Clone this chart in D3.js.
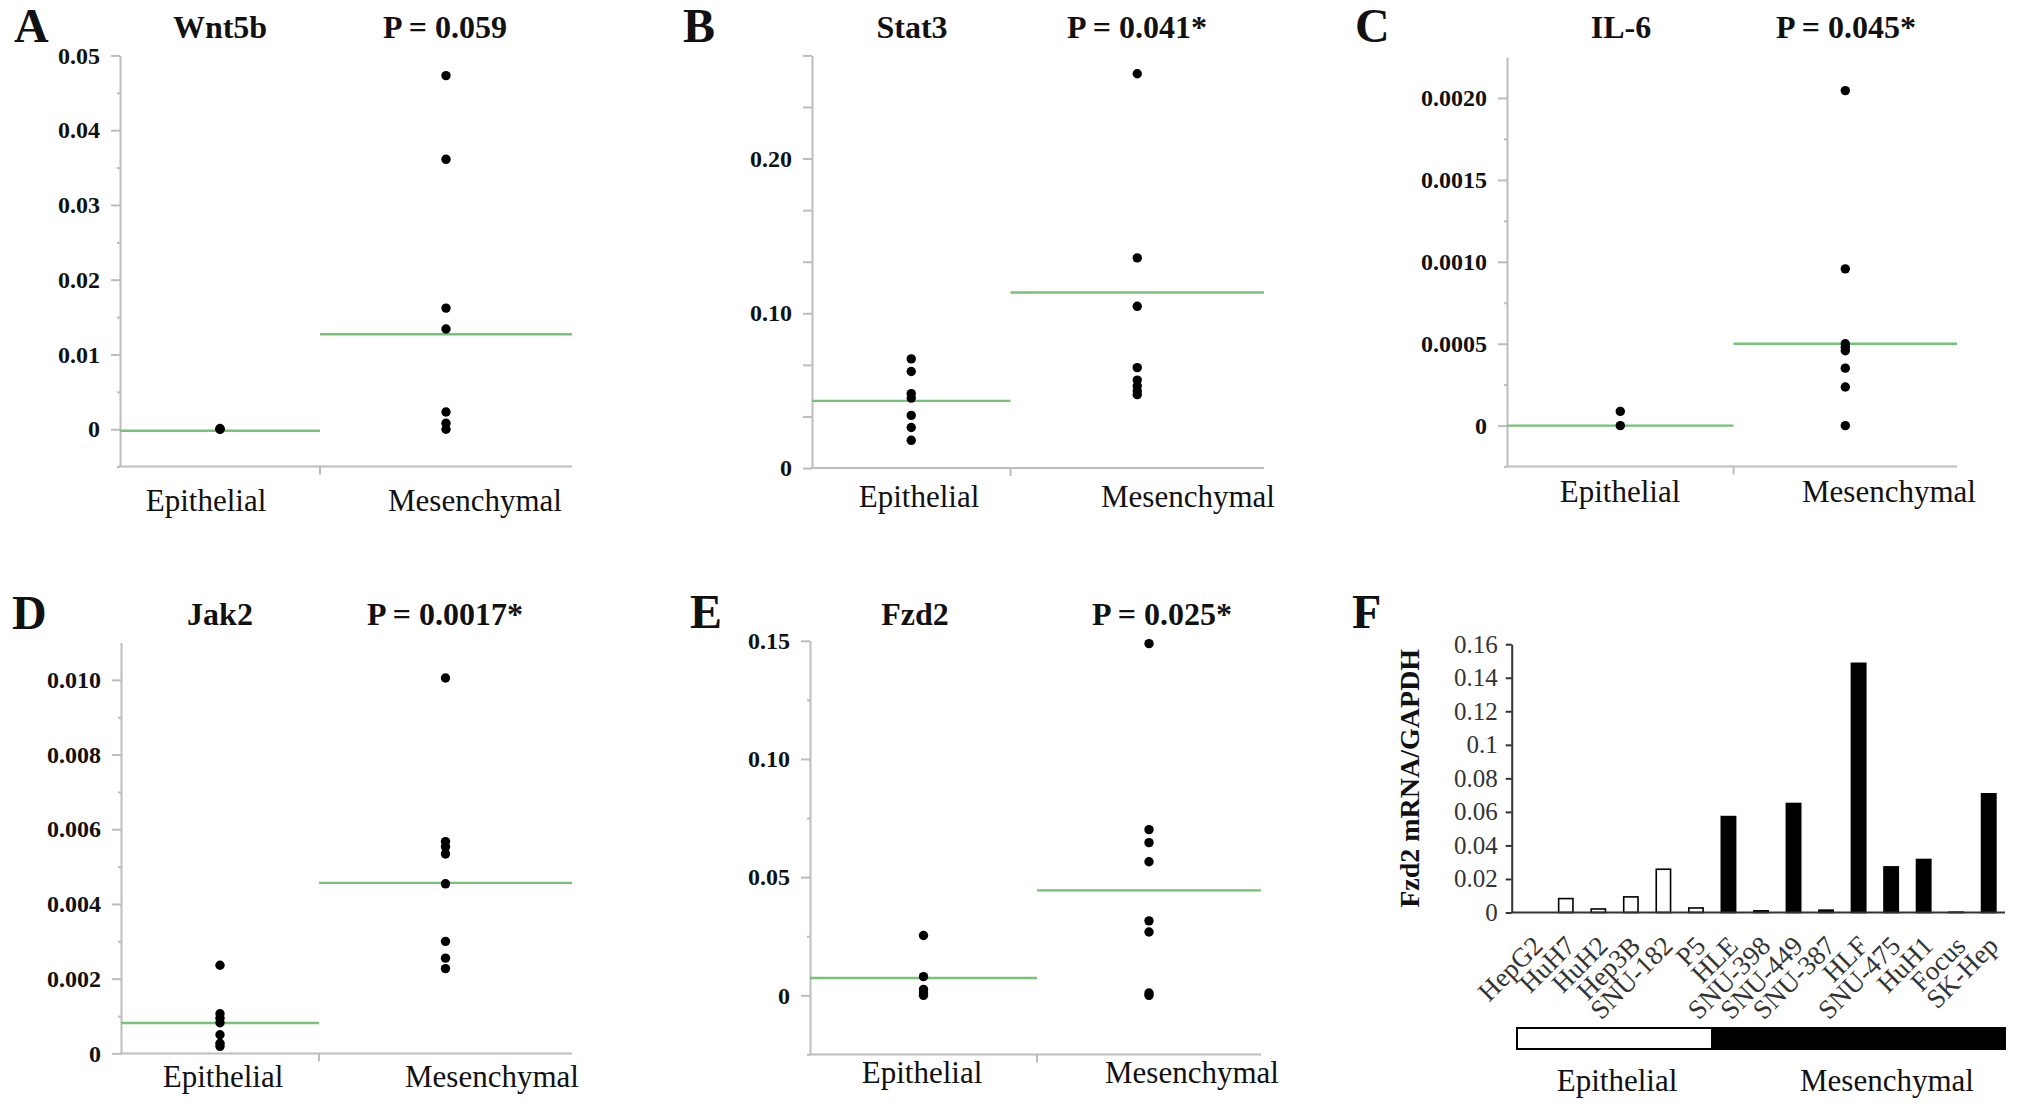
<!DOCTYPE html>
<html>
<head>
<meta charset="utf-8">
<script src="https://cdn.jsdelivr.net/npm/d3@7"></script>
<style>
  body { margin: 0; background: #fff; }
  svg { display: block; font-family: "Liberation Serif", "Times New Roman", serif; }
</style>
</head>
<body>
<svg id="fig" width="2039" height="1115"></svg>
<script>
// ---- values ----
var groups = ["Epithelial", "Mesenchymal"];

// A: Wnt5b
var wnt5bEpi = [0.0001, 0, 0];
var wnt5bMes = [0.0473, 0.0361, 0.0162, 0.0134, 0.0023, 0.0008, 0.0000];
var wnt5bMeans = [-0.0002, 0.0127];
var wnt5bTicks = [0, 0.01, 0.02, 0.03, 0.04, 0.05];
var wnt5bTickLabels = ["0", "0.01", "0.02", "0.03", "0.04", "0.05"];

// B: Stat3
var stat3Epi = [0.0705, 0.0624, 0.0481, 0.0452, 0.0340, 0.0262, 0.0179];
var stat3Mes = [0.2548, 0.1358, 0.1045, 0.0649, 0.0568, 0.0530, 0.0497, 0.0474];
var stat3Means = [0.0434, 0.1134];
var stat3Ticks = [0, 0.10, 0.20];
var stat3TickLabels = ["0", "0.10", "0.20"];

// C: IL-6
var il6Epi = [0.000087, 0];
var il6Mes = [0.002045, 0.000957, 0.000500, 0.000479, 0.000457, 0.000351, 0.000236, 0];
var il6Means = [0, 0.0005];
var il6Ticks = [0, 0.0005, 0.0010, 0.0015, 0.0020];
var il6TickLabels = ["0", "0.0005", "0.0010", "0.0015", "0.0020"];

// D: Jak2
var jak2Epi = [0.00236, 0.00106, 0.00094, 0.00082, 0.00050, 0.00027, 0.00019];
var jak2Mes = [0.01005, 0.00567, 0.00553, 0.00534, 0.00454, 0.00300, 0.00255, 0.00227];
var jak2Means = [0.000815, 0.004565];
var jak2Ticks = [0, 0.002, 0.004, 0.006, 0.008, 0.010];
var jak2TickLabels = ["0", "0.002", "0.004", "0.006", "0.008", "0.010"];

// E: Fzd2
var fzd2Epi = [0.0253, 0.0079, 0.0025, 0.0010, 0];
var fzd2Mes = [0.1488, 0.0701, 0.0646, 0.0565, 0.0315, 0.0268, 0.0010, 0];
var fzd2Means = [0.00735, 0.0444];
var fzd2Ticks = [0, 0.05, 0.10, 0.15];
var fzd2TickLabels = ["0", "0.05", "0.10", "0.15"];

// F: Fzd2 mRNA per cell line
var cellLines = ["HepG2", "HuH7", "HuH2", "Hep3B", "SNU-182", "P5", "HLE", "SNU-398",
                 "SNU-449", "SNU-387", "HLF", "SNU-475", "HuH1", "Focus", "SK-Hep"];
var cellValues = [0, 0.0083, 0.0021, 0.0093, 0.0258, 0.0027, 0.0572, 0.0010,
                  0.0650, 0.0014, 0.1486, 0.0272, 0.0316, 0.0002, 0.0708];
var cellTypes = ["Epithelial", "Epithelial", "Epithelial", "Epithelial", "Epithelial", "Epithelial",
                 "Mesenchymal", "Mesenchymal", "Mesenchymal", "Mesenchymal", "Mesenchymal",
                 "Mesenchymal", "Mesenchymal", "Mesenchymal", "Mesenchymal"];
var barTicks = [0, 0.02, 0.04, 0.06, 0.08, 0.1, 0.12, 0.14, 0.16];
var barTickLabels = ["0", "0.02", "0.04", "0.06", "0.08", "0.1", "0.12", "0.14", "0.16"];

// ---- styling ----
var axisGray = "#bdbdbd";
var meanGreen = "#76c276";
var ink = "#111";

var svg = d3.select("#fig");

// scatter panels: L is where each one sits in the figure
var panels = [
  {letter: "A", gene: "Wnt5b", p: "P = 0.059", epi: wnt5bEpi, mes: wnt5bMes, means: wnt5bMeans,
   ticks: wnt5bTicks, labels: wnt5bTickLabels, domain: [-0.005, 0.05], minorStep: 0.005, minorLen: 3,
   L: {x0: 120, xMid: 320, x1: 572, yTop: 55.4, yBot: 466.6, letX: 14, letY: 42,
       titleY: 38, geneX: 220, pX: 445, labY: 510.6, epiX: 206, mesX: 475}},
  {letter: "B", gene: "Stat3", p: "P = 0.041*", epi: stat3Epi, mes: stat3Mes, means: stat3Means,
   ticks: stat3Ticks, labels: stat3TickLabels, domain: [0, 0.26667], minorStep: 1 / 30, minorLen: 9,
   L: {x0: 812, xMid: 1010.5, x1: 1264, yTop: 55.4, yBot: 468, letX: 683, letY: 42,
       titleY: 38, geneX: 912, pX: 1137, labY: 507, epiX: 919, mesX: 1188}},
  {letter: "C", gene: "IL-6", p: "P = 0.045*", epi: il6Epi, mes: il6Mes, means: il6Means,
   ticks: il6Ticks, labels: il6TickLabels, domain: [-0.00025, 0.00225], minorStep: 0.00025, minorLen: 3,
   L: {x0: 1507, xMid: 1733.6, x1: 1957, yTop: 57, yBot: 466.6, letX: 1355, letY: 42,
       titleY: 38, geneX: 1621, pX: 1846, labY: 502, epiX: 1620, mesX: 1889}},
  {letter: "D", gene: "Jak2", p: "P = 0.0017*", epi: jak2Epi, mes: jak2Mes, means: jak2Means,
   ticks: jak2Ticks, labels: jak2TickLabels, domain: [0, 0.011], minorStep: 0.001, minorLen: 3,
   L: {x0: 121, xMid: 319, x1: 572, yTop: 642.5, yBot: 1053.4, letX: 12, letY: 629,
       titleY: 625, geneX: 220, pX: 445, labY: 1087.3, epiX: 223, mesX: 492}},
  {letter: "E", gene: "Fzd2", p: "P = 0.025*", epi: fzd2Epi, mes: fzd2Mes, means: fzd2Means,
   ticks: fzd2Ticks, labels: fzd2TickLabels, domain: [-0.025, 0.15], minorStep: 0.025, minorLen: 3,
   L: {x0: 810, xMid: 1037, x1: 1261, yTop: 640.8, yBot: 1054.4, letX: 690, letY: 628,
       titleY: 625, geneX: 915, pX: 1162, labY: 1083, epiX: 922, mesX: 1192}}
];

function drawScatter(p) {
  var L = p.L;
  var g = svg.append("g");
  var y = d3.scaleLinear().domain(p.domain).range([L.yBot, L.yTop]);
  var x = d3.scaleOrdinal().domain(groups).range([(L.x0 + L.xMid) / 2, (L.xMid + L.x1) / 2]);
  var edges = d3.scaleOrdinal().domain(groups).range([[L.x0, L.xMid], [L.xMid, L.x1]]);

  // minor ticks (no labels)
  var eps = p.minorStep / 10;
  var minor = d3.range(p.domain[0] + eps, p.domain[1] + eps, p.minorStep)
    .map(function (v) { return Math.round(v / p.minorStep) * p.minorStep; })
    .filter(function (v) { return !p.ticks.some(function (t) { return Math.abs(t - v) < eps; }); });
  g.append("g")
    .attr("transform", "translate(" + L.x0 + ",0)")
    .call(d3.axisLeft(y).tickValues(minor).tickSize(p.minorLen).tickSizeOuter(0).tickFormat(""))
    .call(function (s) { s.select(".domain").remove(); })
    .selectAll("line").attr("stroke", axisGray).attr("stroke-width", 2);

  // major ticks + the y axis line
  var ya = g.append("g")
    .attr("transform", "translate(" + L.x0 + ",0)")
    .call(d3.axisLeft(y).tickValues(p.ticks).tickSize(9).tickSizeOuter(0).tickPadding(11)
      .tickFormat(function (d, i) { return p.labels[i]; }));
  ya.select(".domain").attr("stroke", axisGray).attr("stroke-width", 2);
  ya.selectAll(".tick line").attr("stroke", axisGray).attr("stroke-width", 2);
  ya.attr("font-family", null).attr("font-size", null);
  ya.selectAll(".tick text").attr("fill", ink).attr("font-size", 24).attr("font-weight", "bold");

  // x axis line with a tick between the groups
  g.append("line").attr("x1", L.x0 - 1).attr("x2", L.x1).attr("y1", L.yBot).attr("y2", L.yBot)
    .attr("stroke", axisGray).attr("stroke-width", 2);
  g.append("line").attr("x1", L.xMid).attr("x2", L.xMid).attr("y1", L.yBot).attr("y2", L.yBot + 8)
    .attr("stroke", axisGray).attr("stroke-width", 2);

  // group means
  g.selectAll(".mean").data(groups).enter().append("line")
    .attr("x1", function (d) { return edges(d)[0]; })
    .attr("x2", function (d) { return edges(d)[1]; })
    .attr("y1", function (d, i) { return y(p.means[i]); })
    .attr("y2", function (d, i) { return y(p.means[i]); })
    .attr("stroke", meanGreen).attr("stroke-width", 2.4);

  // points
  var pts = p.epi.map(function (v) { return {g: "Epithelial", v: v}; })
    .concat(p.mes.map(function (v) { return {g: "Mesenchymal", v: v}; }));
  g.selectAll(".dot").data(pts).enter().append("circle")
    .attr("cx", function (d) { return x(d.g); })
    .attr("cy", function (d) { return y(d.v); })
    .attr("r", 4.7).attr("fill", "#000");

  // texts
  g.append("text").attr("x", L.letX).attr("y", L.letY).text(p.letter)
    .attr("font-size", 48).attr("font-weight", "bold").attr("fill", ink);
  g.append("text").attr("x", L.geneX).attr("y", L.titleY).text(p.gene)
    .attr("text-anchor", "middle").attr("font-size", 32).attr("font-weight", "bold").attr("fill", ink);
  g.append("text").attr("x", L.pX).attr("y", L.titleY).text(p.p)
    .attr("text-anchor", "middle").attr("font-size", 32).attr("font-weight", "bold").attr("fill", ink);
  g.append("text").attr("x", L.epiX).attr("y", L.labY).text(groups[0])
    .attr("text-anchor", "middle").attr("font-size", 31).attr("fill", ink);
  g.append("text").attr("x", L.mesX).attr("y", L.labY).text(groups[1])
    .attr("text-anchor", "middle").attr("font-size", 31).attr("fill", ink);
}

panels.forEach(drawScatter);

// ---- panel F: bar chart ----
(function () {
  var g = svg.append("g");
  var axisX = 1511.7;
  var x = d3.scaleBand().domain(cellLines).range([1517, 2005]).paddingInner(0.56).paddingOuter(0.28);
  var y = d3.scaleLinear().domain([0, 0.16]).range([912.5, 644.2]);
  var barInk = "#333";

  var ya = g.append("g")
    .attr("transform", "translate(" + axisX + ",0)")
    .call(d3.axisLeft(y).tickValues(barTicks).tickSize(6).tickSizeOuter(0).tickPadding(8)
      .tickFormat(function (d, i) { return barTickLabels[i]; }));
  ya.attr("font-family", null).attr("font-size", null);
  ya.select(".domain").attr("stroke", barInk).attr("stroke-width", 2);
  ya.selectAll(".tick line").attr("stroke", barInk).attr("stroke-width", 2);
  ya.selectAll(".tick text").attr("fill", barInk).attr("font-size", 25);

  g.selectAll(".bar").data(cellLines).enter().append("rect")
    .attr("x", function (d) { return x(d); })
    .attr("width", x.bandwidth())
    .attr("y", function (d, i) { return y(cellValues[i]); })
    .attr("height", function (d, i) { return y(0) - y(cellValues[i]); })
    .attr("fill", function (d, i) { return cellTypes[i] === "Epithelial" ? "#fff" : "#000"; })
    .attr("stroke", "#000").attr("stroke-width", 1.6);

  g.append("line").attr("x1", axisX).attr("x2", x.range()[1]).attr("y1", y(0)).attr("y2", y(0))
    .attr("stroke", barInk).attr("stroke-width", 2.2);

  g.selectAll(".cell").data(cellLines).enter().append("text")
    .attr("transform", function (d) {
      return "translate(" + (x(d) + x.bandwidth() / 2 + 11) + "," + (y(0) + 35) + ") rotate(-45)";
    })
    .attr("text-anchor", "end").attr("font-size", 27).attr("fill", barInk)
    .text(function (d) { return d; });

  g.append("text")
    .attr("transform", "translate(1419," + ((y(0) + y(0.16)) / 2) + ") rotate(-90)")
    .attr("text-anchor", "middle").attr("font-size", 28).attr("font-weight", "bold").attr("fill", ink)
    .text("Fzd2 mRNA/GAPDH");

  // epithelial / mesenchymal strip under the labels
  var nEpi = cellTypes.filter(function (t) { return t === "Epithelial"; }).length;
  var r0 = x.range()[0], r1 = x.range()[1], split = r0 + nEpi * x.step();
  g.append("rect").attr("x", r0).attr("y", 1028).attr("width", split - r0).attr("height", 21)
    .attr("fill", "#fff").attr("stroke", "#000").attr("stroke-width", 2);
  g.append("rect").attr("x", split).attr("y", 1028).attr("width", r1 - split).attr("height", 21)
    .attr("fill", "#000").attr("stroke", "#000").attr("stroke-width", 2);

  g.append("text").attr("x", 1617).attr("y", 1091).text(groups[0])
    .attr("text-anchor", "middle").attr("font-size", 31).attr("fill", ink);
  g.append("text").attr("x", 1887).attr("y", 1091).text(groups[1])
    .attr("text-anchor", "middle").attr("font-size", 31).attr("fill", ink);
  g.append("text").attr("x", 1352).attr("y", 628).text("F")
    .attr("font-size", 48).attr("font-weight", "bold").attr("fill", ink);
})();
</script>
</body>
</html>
